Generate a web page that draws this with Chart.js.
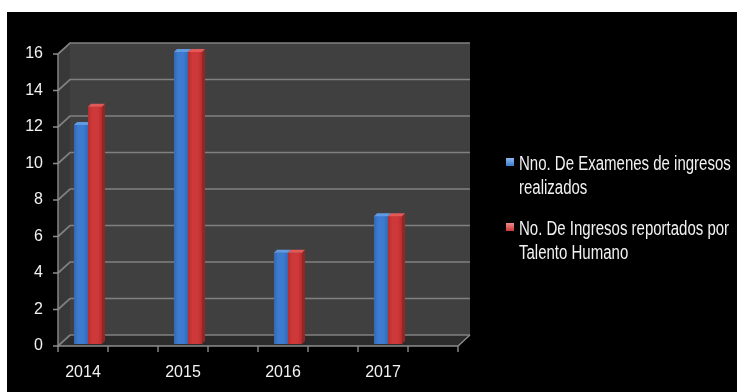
<!DOCTYPE html>
<html>
<head>
<meta charset="utf-8">
<script src="https://cdn.jsdelivr.net/npm/chart.js@4.4.1/dist/chart.umd.min.js"></script>
<style>
  html, body { margin: 0; padding: 0; background: #ffffff; }
  #wrap { position: relative; width: 737px; height: 392px; overflow: hidden; }
  #c { position: absolute; left: 0; top: 0; }
  .leg { position: absolute; left: 519px; color: #f2f2f2; font-family: 'Liberation Sans', Arial, sans-serif; font-size: 20px; line-height: 24px; white-space: nowrap; transform: scaleX(0.75); transform-origin: 0 0; }
  .mk { position: absolute; left: 506px; width: 8px; height: 8px; }
</style>
</head>
<body>
<div id="wrap">
  <canvas id="c" width="737" height="392"></canvas>
</div>
<script>
// Years on the category axis
const years = ['2014', '2015', '2016', '2017'];
// Exams carried out at hiring
const examenes = [12, 16, 5, 7];
// Hires reported by Talento Humano
const ingresos = [13, 16, 5, 7];
// Legend texts, split over two lines each
const serieNames = [
  ['Nno. De Examenes de ingresos', 'realizados'],
  ['No. De Ingresos reportados por', 'Talento Humano']
];
const yTicks = [0, 2, 4, 6, 8, 10, 12, 14, 16];

const FONT = "'Liberation Sans', Arial, sans-serif";
const BLUE = '#3c7bcf';
const RED = '#cf3838';

// Pseudo-3D frame: back wall, side wall, floor and gridlines, drawn behind the bars
const frame3d = {
  id: 'frame3d',
  beforeDraw(chart) {
    const ctx = chart.ctx;
    const a = chart.chartArea;
    const ys = chart.scales.y;
    ctx.save();
    ctx.fillStyle = '#ffffff';
    ctx.fillRect(0, 0, chart.width, chart.height);
    ctx.fillStyle = '#000000';
    ctx.fillRect(7, 12, chart.width - 7, chart.height - 12);

    const dx = 12;
    const fL = a.left, fR = a.right;                 // front edge of the floor
    const wL = fL + dx, wR = fR + dx;                // back wall
    const front = v => ys.getPixelForValue(v) + 2;
    const wall = v => ys.getPixelForValue(v) - 9;
    const vmax = yTicks[yTicks.length - 1];

    // side wall
    ctx.fillStyle = '#383838';
    ctx.beginPath();
    ctx.moveTo(fL, front(vmax)); ctx.lineTo(wL, wall(vmax));
    ctx.lineTo(wL, wall(0)); ctx.lineTo(fL, front(0)); ctx.closePath(); ctx.fill();
    // back wall
    ctx.fillStyle = '#404040';
    ctx.fillRect(wL, wall(vmax), wR - wL, wall(0) - wall(vmax));
    // floor
    ctx.fillStyle = '#2c2c2c';
    ctx.beginPath();
    ctx.moveTo(fL, front(0)); ctx.lineTo(wL, wall(0));
    ctx.lineTo(wR, wall(0)); ctx.lineTo(fR, front(0)); ctx.closePath(); ctx.fill();

    // gridlines
    ctx.strokeStyle = '#808080';
    ctx.lineWidth = 1.7;
    yTicks.forEach(v => {
      ctx.beginPath();
      ctx.moveTo(fL, front(v)); ctx.lineTo(wL, wall(v)); ctx.lineTo(wR, wall(v));
      ctx.stroke();
    });

    // axes and tick marks
    ctx.strokeStyle = '#8c8c8c';
    ctx.lineWidth = 1.4;
    ctx.beginPath();
    ctx.moveTo(fL, front(vmax)); ctx.lineTo(fL, front(0)); ctx.lineTo(fR, front(0)); ctx.lineTo(wR, wall(0));
    yTicks.forEach(v => { ctx.moveTo(fL - 5, front(v)); ctx.lineTo(fL, front(v)); });
    const n = years.length * 2;
    for (let i = 0; i <= n; i++) {
      const x = fL + (fR - fL) * i / n;
      ctx.moveTo(x, front(0)); ctx.lineTo(x, front(0) + 6);
    }
    ctx.stroke();
    ctx.restore();
  },
  // shading, top and side faces of each bar; the right-hand series is painted last
  afterDatasetsDraw(chart) {
    const ctx = chart.ctx;
    const d = 3;
    ctx.save();
    chart.data.datasets.forEach((ds, di) => {
      const meta = chart.getDatasetMeta(di);
      meta.data.forEach(bar => {
        const p = bar.getProps(['x', 'y', 'base', 'width'], true);
        const l = p.x - p.width / 2, r = p.x + p.width / 2;
        const g = ctx.createLinearGradient(l, 0, r, 0);
        g.addColorStop(0, ds.shadeColor);
        g.addColorStop(0.3, ds.backgroundColor);
        g.addColorStop(0.7, ds.backgroundColor);
        g.addColorStop(1, ds.shadeColor);
        ctx.fillStyle = g;
        ctx.fillRect(l, p.y, r - l, p.base - p.y);
        ctx.fillStyle = ds.sideColor;
        ctx.beginPath();
        ctx.moveTo(r, p.y); ctx.lineTo(r + d, p.y - d); ctx.lineTo(r + d, p.base - d); ctx.lineTo(r, p.base);
        ctx.closePath(); ctx.fill();
        ctx.fillStyle = ds.topColor;
        ctx.beginPath();
        ctx.moveTo(l, p.y); ctx.lineTo(l + d, p.y - d); ctx.lineTo(r + d, p.y - d); ctx.lineTo(r, p.y);
        ctx.closePath(); ctx.fill();
      });
    });
    ctx.restore();
  }
};

// bars sit on a linear index axis so that each pair is placed toward the left of its year slot
const toPoints = vals => vals.map((v, i) => ({ x: i, y: v }));

const chart = new Chart(document.getElementById('c'), {
  type: 'bar',
  data: {
    datasets: [
      {
        label: serieNames[0].join(' '),
        data: toPoints(examenes),
        backgroundColor: BLUE,
        shadeColor: '#3468b4',
        topColor: '#609ae2',
        sideColor: '#2d5d9c'
      },
      {
        label: serieNames[1].join(' '),
        data: toPoints(ingresos),
        backgroundColor: RED,
        shadeColor: '#b22e2e',
        topColor: '#e45858',
        sideColor: '#962626'
      }
    ]
  },
  options: {
    responsive: false,
    animation: false,
    devicePixelRatio: 1,
    layout: { padding: { left: 0, top: 52, right: 279, bottom: 0 } },
    datasets: { bar: { categoryPercentage: 0.28, barPercentage: 1.0, borderWidth: 0 } },
    plugins: { legend: { display: false }, tooltip: { enabled: false } },
    scales: {
      x: {
        type: 'linear',
        offset: false,
        min: -0.3, max: 3.7,
        grid: { display: false, drawTicks: false, tickLength: 0 },
        border: { display: false },
        afterBuildTicks: s => { s.ticks = years.map((y, i) => ({ value: i })); },
        ticks: {
          color: '#f2f2f2', font: { family: FONT, size: 16 }, padding: 19, labelOffset: -5, maxRotation: 0,
          callback: v => years[v]
        },
        afterFit: s => { s.height = 48; }
      },
      y: {
        min: 0, max: 16,
        grid: { display: false, drawTicks: false, tickLength: 0 },
        border: { display: false },
        ticks: { stepSize: 2, color: '#f2f2f2', font: { family: FONT, size: 16 }, padding: 15, labelOffset: 2 },
        afterFit: s => { s.width = 58; }
      }
    }
  },
  plugins: [frame3d]
});

// legend
const wrap = document.getElementById('wrap');
const legTops = [151, 216];
const legColors = [[BLUE, '#8cb8ee'], [RED, '#ee8c8c']];
serieNames.forEach((lines, i) => {
  const mk = document.createElement('div');
  mk.className = 'mk';
  mk.style.top = (legTops[i] + 7) + 'px';
  mk.style.background = 'linear-gradient(180deg,' + legColors[i][1] + ',' + legColors[i][0] + ')';
  wrap.appendChild(mk);
  const t = document.createElement('div');
  t.className = 'leg';
  t.style.top = legTops[i] + 'px';
  t.innerHTML = lines.join('<br>');
  wrap.appendChild(t);
});
</script>
</body>
</html>
